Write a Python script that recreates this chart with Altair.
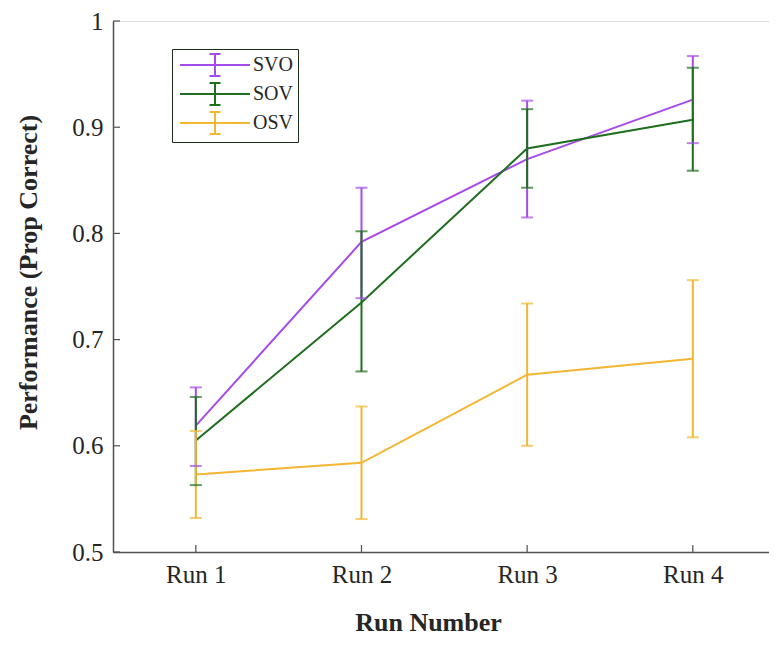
import altair as alt
import pandas as pd

runs = [1, 2, 3, 4]
run_labels = ["Run 1", "Run 2", "Run 3", "Run 4"]
series = ["SVO", "SOV", "OSV"]
colors = ["#A64BEA", "#1E6E1E", "#F2B632"]

svo_mean = [0.619, 0.792, 0.870, 0.926]
svo_lo = [0.581, 0.739, 0.815, 0.885]
svo_hi = [0.655, 0.843, 0.925, 0.967]
sov_mean = [0.605, 0.735, 0.880, 0.907]
sov_lo = [0.563, 0.670, 0.843, 0.859]
sov_hi = [0.646, 0.802, 0.917, 0.956]
osv_mean = [0.573, 0.584, 0.667, 0.682]
osv_lo = [0.532, 0.531, 0.600, 0.608]
osv_hi = [0.614, 0.637, 0.734, 0.756]

y_ticks = [0.5, 0.6, 0.7, 0.8, 0.9, 1.0]

rows = []
for name, m, lo, hi in [("SVO", svo_mean, svo_lo, svo_hi),
                        ("SOV", sov_mean, sov_lo, sov_hi),
                        ("OSV", osv_mean, osv_lo, osv_hi)]:
    for r, a, b, c in zip(runs, m, lo, hi):
        rows.append({"run": r, "series": name, "mean": a, "lo": b, "hi": c})
df = pd.DataFrame(rows)

W, H = 656, 531
FONT = "Liberation Serif"
AXC = "#505050"
TXT = "#262626"

xscale = alt.Scale(domain=[0.5, 4.46], nice=False, zero=False)
yscale = alt.Scale(domain=[0.5, 1.0], nice=False, zero=False)

label_expr = ("datum.value == 1 ? '" + run_labels[0] + "' : datum.value == 2 ? '" + run_labels[1]
              + "' : datum.value == 3 ? '" + run_labels[2] + "' : '" + run_labels[3] + "'")

x_axis = alt.Axis(values=runs, labelExpr=label_expr, ticks=False, grid=False,
                  labelPadding=10, labelFontSize=25, labelFont=FONT, labelColor=TXT,
                  domainColor=AXC, domainWidth=1.5,
                  title="Run Number", titleFont=FONT, titleFontSize=26, titleFontWeight="bold",
                  titleColor=TXT, titleX=315, titleY=78, titleBaseline="alphabetic",
                  titleAnchor="start", titleAlign="center")
y_axis = alt.Axis(values=y_ticks, format=".1~f", ticks=False, grid=False,
                  labelPadding=10, labelFontSize=25, labelFont=FONT, labelColor=TXT,
                  labelFlush=False, domainColor=AXC, domainWidth=1.5,
                  title="Performance (Prop Correct)", titleFont=FONT, titleFontSize=26,
                  titleFontWeight="bold", titleColor=TXT, titleX=-85, titleY=251,
                  titleBaseline="middle", titleAlign="center", titleAngle=-90)

color = alt.Color("series:N", scale=alt.Scale(domain=series, range=colors),
                  legend=alt.Legend(
                      title=None, orient="none", legendX=59, legendY=28,
                      symbolType="M-3.18,0H3.18M0,-1V1M-0.5,-1H0.5M-0.5,1H0.5",
                      symbolSize=484, symbolStrokeWidth=2, symbolFillColor="transparent",
                      symbolOffset=27,
                      labelFont=FONT, labelFontSize=20, labelColor=TXT, labelOffset=26,
                      rowPadding=-1, padding=4, strokeColor="#1a301a",
                      fillColor="white"))
color_nl = alt.Color("series:N", scale=alt.Scale(domain=series, range=colors), legend=None)

base = alt.Chart(df)

lines = base.mark_line(strokeWidth=2).encode(
    x=alt.X("run:Q", scale=xscale, axis=x_axis),
    y=alt.Y("mean:Q", scale=yscale, axis=y_axis),
    color=color,
    order=alt.Order("run:Q"),
)
bars = base.mark_rule(strokeWidth=2).encode(
    x=alt.X("run:Q", scale=xscale), y=alt.Y("lo:Q", scale=yscale), y2="hi:Q", color=color_nl)
cap_lo = base.mark_tick(orient="horizontal", size=12, thickness=2).encode(
    x=alt.X("run:Q", scale=xscale), y=alt.Y("lo:Q", scale=yscale), color=color_nl)
cap_hi = base.mark_tick(orient="horizontal", size=12, thickness=2).encode(
    x=alt.X("run:Q", scale=xscale), y=alt.Y("hi:Q", scale=yscale), color=color_nl)

ytick_df = pd.DataFrame({"v": y_ticks})
xtick_df = pd.DataFrame({"r": runs})
yticks = alt.Chart(ytick_df).mark_rule(color=AXC, strokeWidth=1.2).encode(
    y=alt.Y("v:Q", scale=yscale), x=alt.value(0), x2=alt.value(7))
xticks = alt.Chart(xtick_df).mark_rule(color=AXC, strokeWidth=1.2).encode(
    x=alt.X("r:Q", scale=xscale), y=alt.value(H), y2=alt.value(H - 7))

chart = alt.layer(lines, bars, cap_lo, cap_hi, yticks, xticks).properties(
    width=W, height=H,
    autosize=alt.AutoSizeParams(type="none"),
    padding={"left": 105, "top": 13, "right": 0, "bottom": 85},
).configure_view(stroke=None).configure_legend(strokeWidth=2, cornerRadius=0).configure(background="white")

chart.save("out.html", embed_options={"renderer": "svg", "actions": False})
